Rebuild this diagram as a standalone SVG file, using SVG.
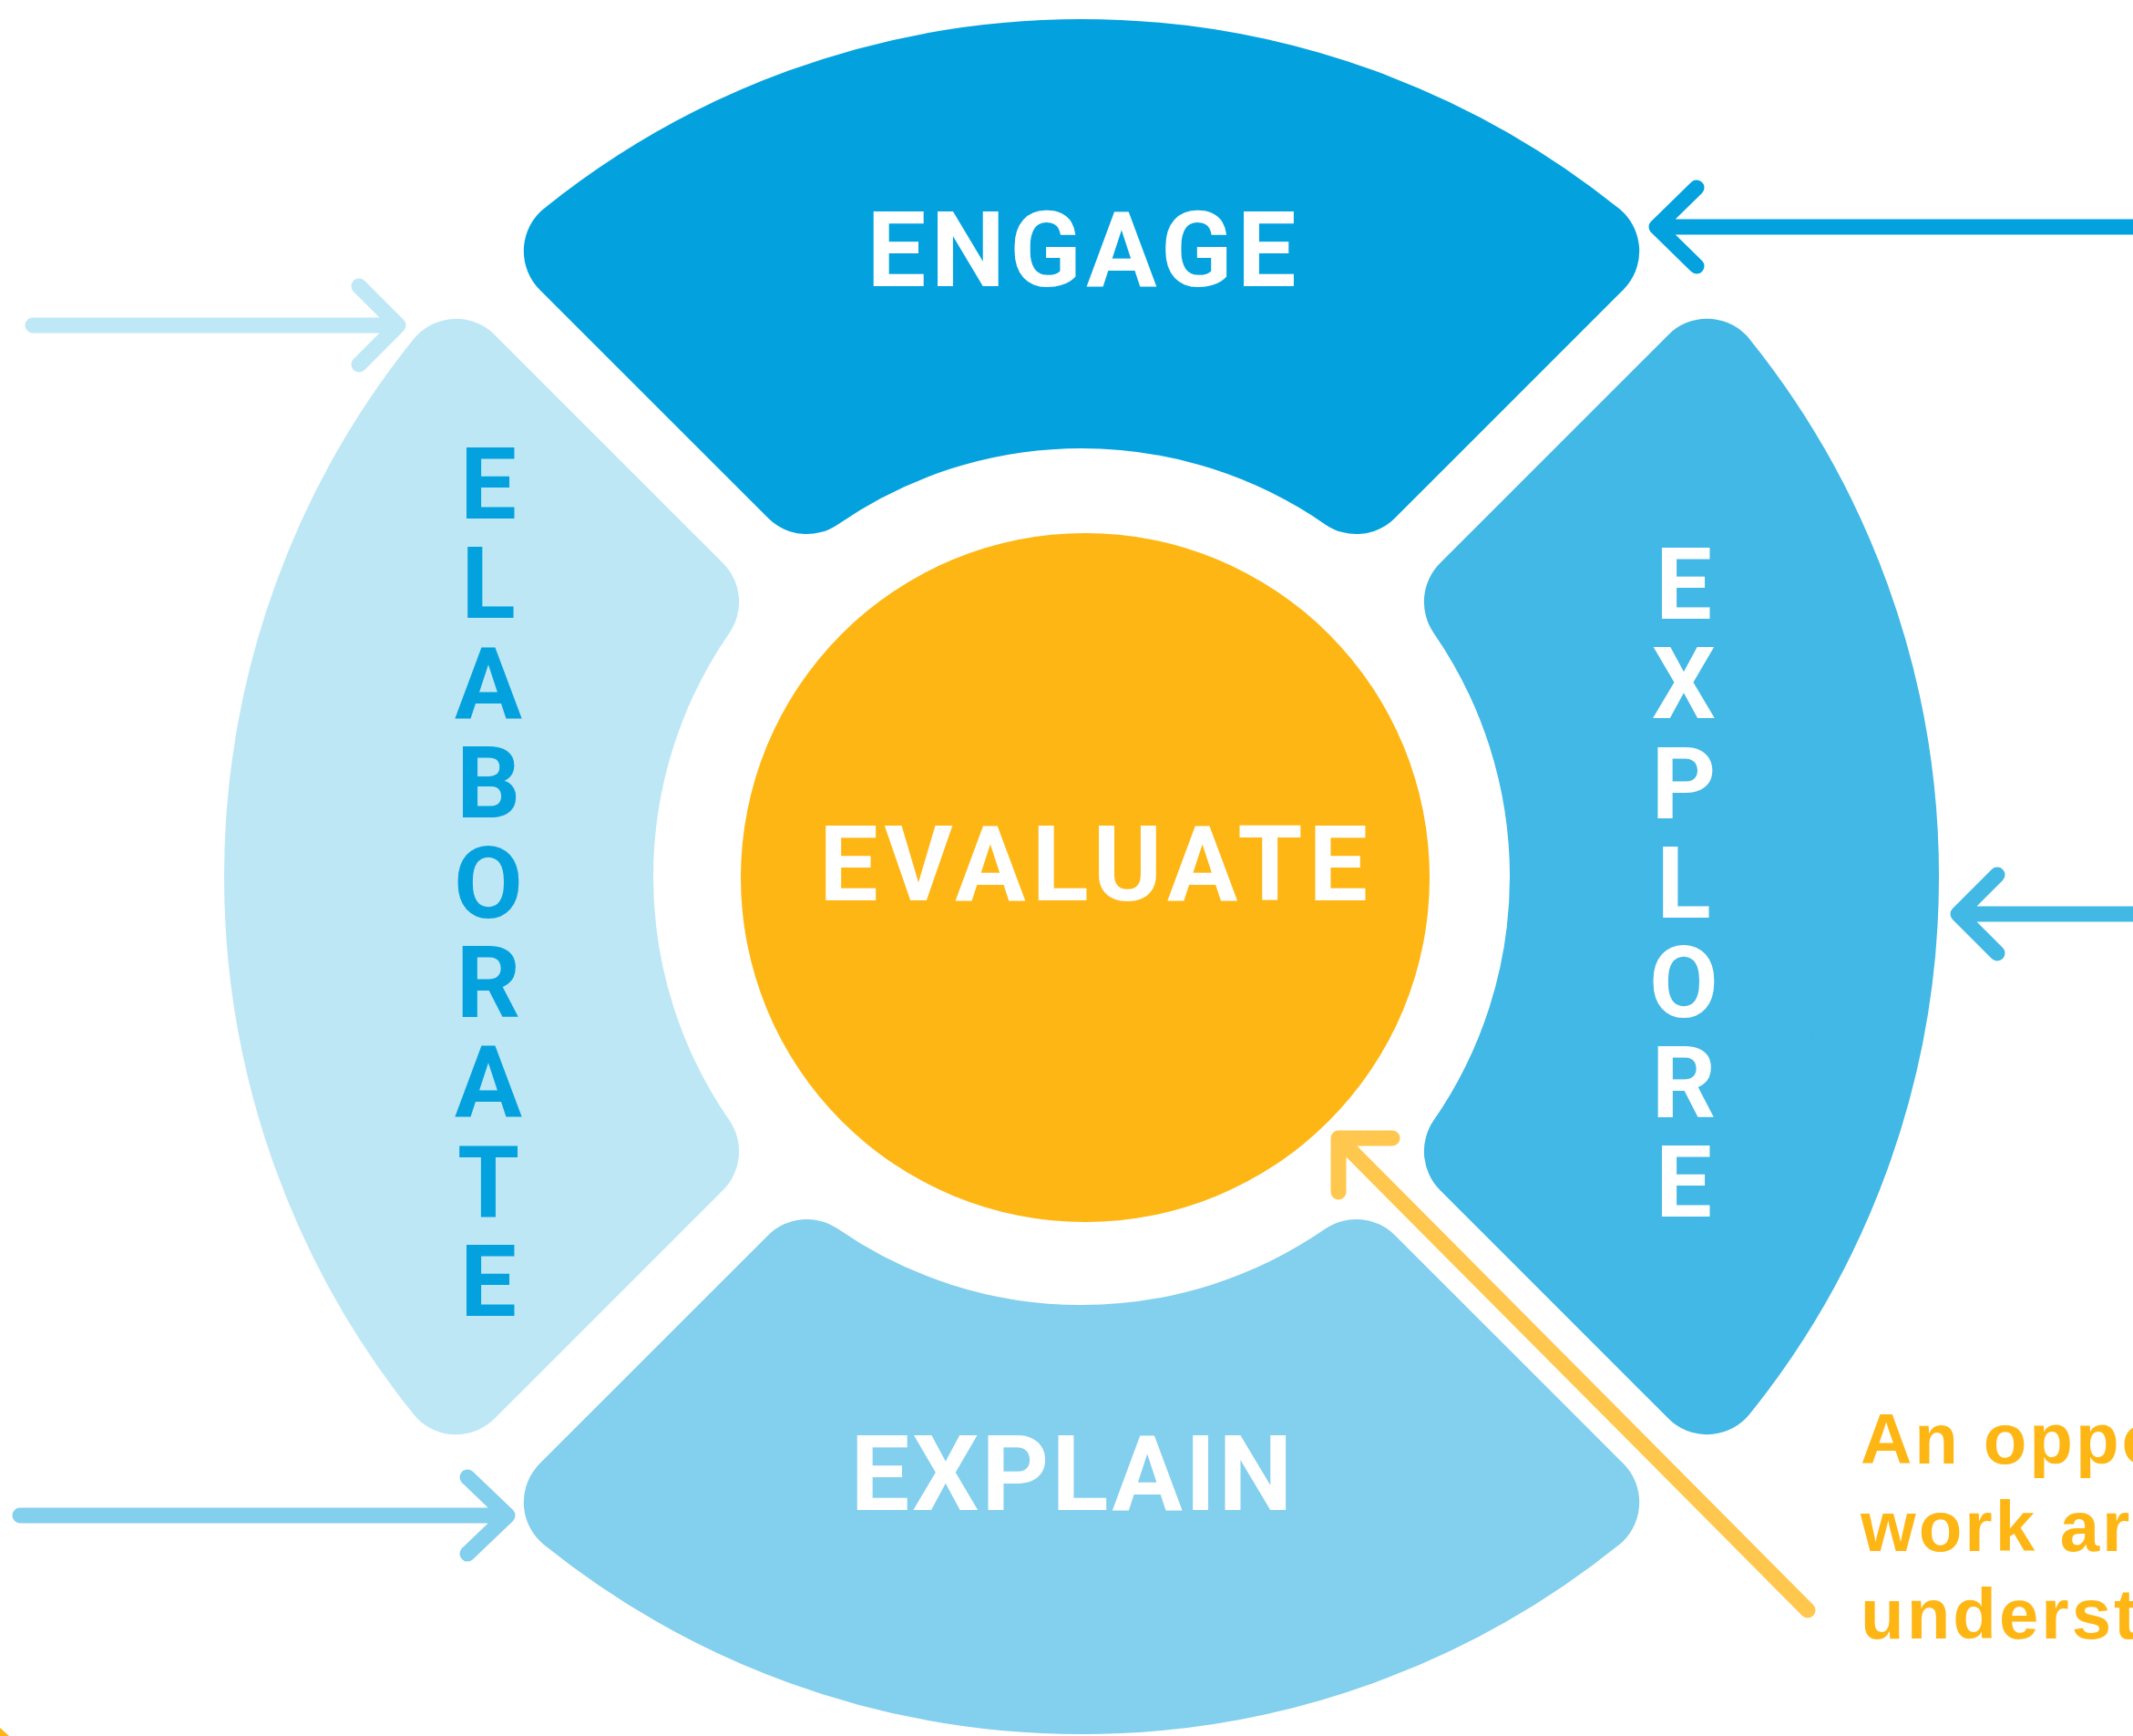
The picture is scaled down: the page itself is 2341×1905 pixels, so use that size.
<svg xmlns="http://www.w3.org/2000/svg" width="2341" height="1905" viewBox="0 0 2341 1905">
<defs>
<style>
.seg{stroke-width:120;stroke-linejoin:round}
.lbl{font-family:Roboto,"Liberation Sans",sans-serif;font-weight:700;font-size:115px;text-anchor:middle;fill:#FFFFFF}
.vl{font-family:Roboto,"Liberation Sans",sans-serif;font-weight:700;font-size:110px;text-anchor:middle}
.arr{fill:none;stroke-width:17;stroke-linecap:round;stroke-linejoin:round}
.note{font-family:"Liberation Sans",Arial,sans-serif;font-weight:700;font-size:78px;letter-spacing:3px;fill:#FEB614}
</style>
<path id="seg" d="M -552.2 -686.5 A 881 881 0 0 1 552.2 -686.5 L 301.5 -435.9 A 530 530 0 0 0 -301.5 -435.9 Z"/>
</defs>
<rect x="0" y="0" width="2341" height="1905" fill="#FFFFFF"/>
<path d="M0 1896 L10 1905 L0 1905 Z" fill="#FEB614"/>

<g id="node-engage">
<use href="#seg" class="seg" fill="#03A2DF" stroke="#03A2DF" transform="translate(1187 962)"/>
<text class="lbl" x="1187" y="314" textLength="471" lengthAdjust="spacing">ENGAGE</text>
</g>

<g id="node-explore">
<use href="#seg" class="seg" fill="#41B8E5" stroke="#41B8E5" transform="translate(1187 962) rotate(90)"/>
<text class="vl" fill="#FFFFFF" x="1848" y="679"><tspan x="1848">E</tspan><tspan x="1848" dy="109.3">X</tspan><tspan x="1848" dy="109.3">P</tspan><tspan x="1848" dy="109.3">L</tspan><tspan x="1848" dy="109.3">O</tspan><tspan x="1848" dy="109.3">R</tspan><tspan x="1848" dy="109.3">E</tspan></text>
</g>

<g id="node-explain">
<use href="#seg" class="seg" fill="#82CFEE" stroke="#82CFEE" transform="translate(1187 962) rotate(180)"/>
<text class="lbl" x="1176" y="1657" textLength="485" lengthAdjust="spacing">EXPLAIN</text>
</g>

<g id="node-elaborate">
<use href="#seg" class="seg" fill="#BEE7F6" stroke="#BEE7F6" transform="translate(1187 962) rotate(270)"/>
<text class="vl" fill="#03A2DF" x="536" y="569"><tspan x="536">E</tspan><tspan x="536" dy="109.4">L</tspan><tspan x="536" dy="109.4">A</tspan><tspan x="536" dy="109.4">B</tspan><tspan x="536" dy="109.4">O</tspan><tspan x="536" dy="109.4">R</tspan><tspan x="536" dy="109.4">A</tspan><tspan x="536" dy="109.4">T</tspan><tspan x="536" dy="109.4">E</tspan></text>
</g>

<g id="node-evaluate">
<circle cx="1191" cy="963" r="378" fill="#FEB614"/>
<text class="lbl" x="1200" y="988" textLength="602" lengthAdjust="spacing">EVALUATE</text>
</g>

<g id="connectors">
<path class="arr" stroke="#03A2DF" d="M2360 249 L1818 249 M1862 206 L1818 249 L1862 292"/>
<path class="arr" stroke="#BEE8F6" d="M36 357 L437 357 M394 314 L437 357 L394 400"/>
<path class="arr" stroke="#42B8E5" d="M2360 1003 L2149 1003 M2192 960 L2149 1003 L2192 1046"/>
<path class="arr" stroke="#83CFEE" d="M22 1663 L557 1663 M513 1621 L557 1663 L513 1705"/>
<path class="arr" stroke="#FFC74E" d="M1984 1767 L1469 1249 M1528 1249 L1469 1249 L1469 1308"/>
</g>

<g id="note">
<text class="note" x="2042" y="1606">An oppo</text>
<text class="note" x="2042" y="1702">work ar</text>
<text class="note" x="2042" y="1798">underst</text>
</g>
</svg>
